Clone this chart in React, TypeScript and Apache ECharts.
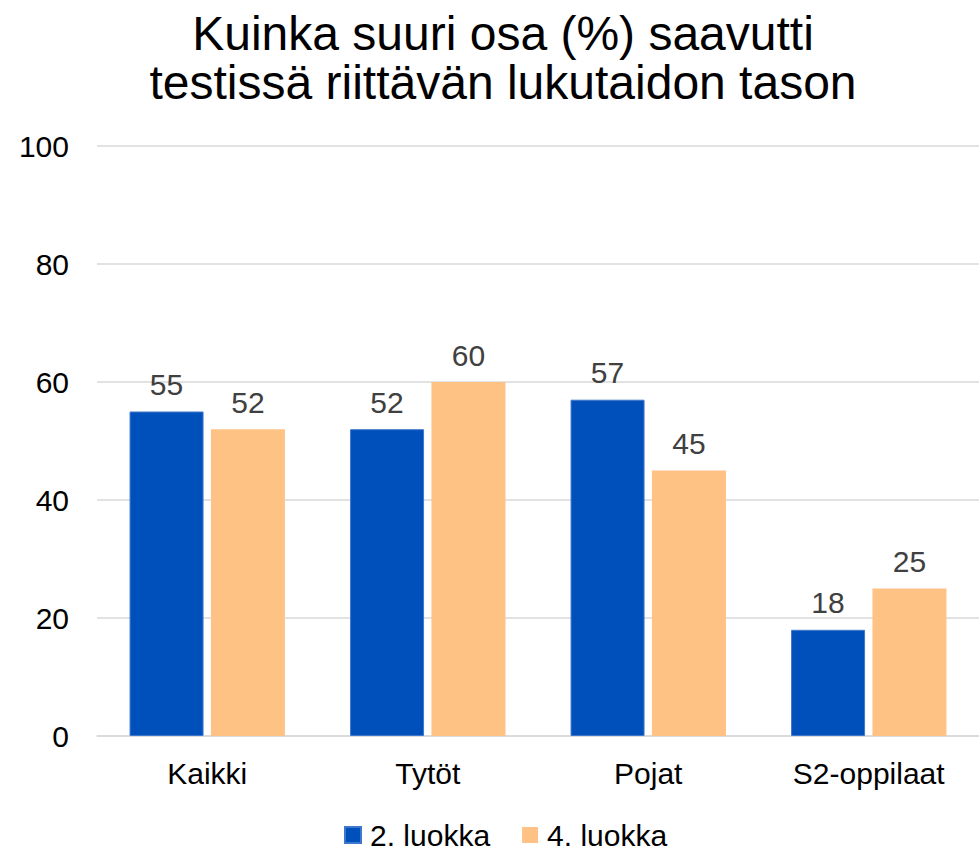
import React, { useEffect, useRef } from "react";
import * as echarts from "echarts";

const titleLines = ["Kuinka suuri osa (%) saavutti", "testissä riittävän lukutaidon tason"];
const categories = ["Kaikki", "Tytöt", "Pojat", "S2-oppilaat"];
const seriesNames = ["2. luokka", "4. luokka"];
const grade2 = [55, 52, 57, 18];
const grade4 = [52, 60, 45, 25];
const yTicks = { min: 0, max: 100, interval: 20 };

const FONT = "'Liberation Sans', Arial, sans-serif";

export default function App() {
  const ref = useRef<HTMLDivElement>(null);
  useEffect(() => {
    if (!ref.current) return;
    const chart = echarts.init(ref.current, undefined, { renderer: "svg" });
    const labelStyle = {
      show: true,
      position: "top" as const,
      distance: 12,
      color: "#404040",
      fontSize: 30,
      fontFamily: FONT,
    };
    chart.setOption({
      animation: false,
      backgroundColor: "#ffffff",
      textStyle: { fontFamily: FONT },
      title: {
        text: titleLines.join("\n"),
        left: 498,
        top: 4,
        textAlign: "center",
        textStyle: {
          fontSize: 48,
          lineHeight: 49,
          fontWeight: "normal",
          color: "#000000",
          fontFamily: FONT,
        },
      },
      legend: {
        left: 344,
        top: 820,
        padding: 0,
        itemWidth: 16,
        itemHeight: 16,
        itemGap: 32,
        icon: "rect",
        textStyle: {
          fontSize: 30,
          lineHeight: 30,
          color: "#000000",
          fontFamily: FONT,
          padding: [0, 0, 0, 4],
        },
        data: seriesNames,
      },
      grid: { left: 97, top: 146, width: 885, height: 590, containLabel: false },
      xAxis: {
        type: "category",
        data: categories,
        axisLine: { show: true, lineStyle: { color: "#D9D9D9", width: 1.5 } },
        axisTick: { show: false },
        axisLabel: { color: "#000000", fontSize: 30, fontFamily: FONT, margin: 22 },
      },
      yAxis: {
        type: "value",
        min: yTicks.min,
        max: yTicks.max,
        interval: yTicks.interval,
        axisLine: { show: false },
        axisTick: { show: false },
        splitLine: { lineStyle: { color: "#D9D9D9", width: 1.5 } },
        axisLabel: { color: "#000000", fontSize: 30, fontFamily: FONT, margin: 28 },
      },
      series: [
        {
          name: seriesNames[0],
          type: "bar",
          data: grade2,
          barWidth: 74,
          barGap: "10%",
          itemStyle: { color: "#0050BC", borderColor: "#3E78CC", borderWidth: 1 },
          label: labelStyle,
        },
        {
          name: seriesNames[1],
          type: "bar",
          data: grade4,
          barWidth: 74,
          barGap: "10%",
          itemStyle: { color: "#FFC285" },
          label: labelStyle,
        },
      ],
    });
    return () => chart.dispose();
  }, []);
  return (
    <div
      ref={ref}
      style={{ position: "absolute", left: 0, top: 0, width: 979, height: 852 }}
    />
  );
}
